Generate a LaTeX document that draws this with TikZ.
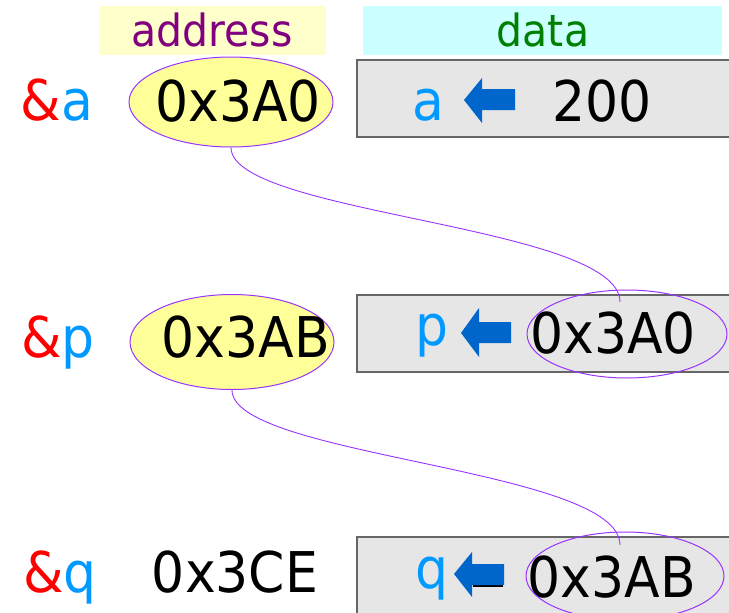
\documentclass[tikz,border=0pt]{standalone}
\usepackage{fontspec}
\setmainfont{DejaVu Sans}
\usetikzlibrary{shapes.geometric}
\definecolor{ellcol}{HTML}{9933FF}
\definecolor{ellfill}{HTML}{FFFF99}
\definecolor{boxline}{HTML}{666666}
\definecolor{boxfill}{HTML}{E6E6E6}
\definecolor{arrcol}{HTML}{0066CC}
\definecolor{hdrA}{HTML}{FFFFCC}
\definecolor{hdrB}{HTML}{CCFFFF}
\definecolor{hdrAtxt}{HTML}{800080}
\definecolor{hdrBtxt}{HTML}{008000}
\definecolor{ampred}{HTML}{FF0000}
\definecolor{varblue}{HTML}{0099FF}
\newcommand{\tallt}[1]{\scalebox{1}[1.08]{#1}}
\begin{document}
\begin{tikzpicture}[x=1pt,y=-1pt,
  big/.style={font=\fontsize{52}{52}\selectfont, inner sep=0pt, anchor=base},
  hdr/.style={font=\fontsize{41}{41}\selectfont, inner sep=0pt, anchor=base},
  addrell/.style={ellipse, draw=ellcol, fill=ellfill, line width=1pt, inner sep=0pt},
  ptrell/.style={ellipse, draw=ellcol, line width=1pt, inner sep=0pt},
  databox/.style={draw=boxline, fill=boxfill, line width=1.2pt},
  blockarrow/.style={fill=arrcol},
  link/.style={draw=ellcol, line width=0.9pt}]
\useasboundingbox (0,0) rectangle (729,613);

% headers
\fill[hdrA] (99,6) rectangle (326,55);
\fill[hdrB] (363,6) rectangle (722,55);
\node[hdr, text=hdrAtxt] (haddr) at (212,46) {\tallt{address}};
\node[hdr, text=hdrBtxt] (hdata) at (543,46) {\tallt{data}};

% data boxes
\path[databox] (357,60) rectangle (745,137);
\path[databox] (357,295) rectangle (745,372);
\path[databox] (357,537) rectangle (745,625);

% address ellipses
\node[addrell, minimum width=204pt, minimum height=90pt] (e1) at (231,102) {};
\node[addrell, minimum width=204pt, minimum height=95pt] (e2) at (232,342) {};

% left labels
\node[big] (la) at (57,120) {\tallt{\textcolor{ampred}{\&}\textcolor{varblue}{a}}};
\node[big] (lp) at (58,357) {\tallt{\textcolor{ampred}{\&}\textcolor{varblue}{p}}};
\node[big] (lq) at (60,592) {\tallt{\textcolor{ampred}{\&}\textcolor{varblue}{q}}};

% addresses
\node[big] (aa) at (238,121) {\tallt{0x3A0}};
\node[big] (ap) at (246,357) {\tallt{0x3AB}};
\node[big] (aq) at (235,592) {\tallt{0x3CE}};

% data row a
\node[big, text=varblue] (va) at (428,120) {\tallt{a}};
\fill[blockarrow] (464,100) -- (482,78) -- (482,89) -- (515,89) -- (515,110) -- (482,110) -- (482,123) -- cycle;
\node[big] (da) at (602,121) {\tallt{200}};

% data row p
\node[big, text=varblue] (vp) at (432,345) {\tallt{p}};
\fill[blockarrow] (461,333) -- (479,308) -- (479,322) -- (511,322) -- (511,343) -- (479,343) -- (479,357) -- cycle;
\node[big] (dp) at (613,353) {\tallt{0x3A0}};
\node[ptrell, minimum width=200pt, minimum height=88pt] (d2) at (627,334) {};

% data row q
\node[big, text=varblue] (vq) at (432,588) {\tallt{q}};
\draw[black, line width=2pt] (473,586) -- (503,586);
\fill[blockarrow] (454,574) -- (472,552) -- (472,564) -- (504,564) -- (504,585) -- (472,585) -- (472,597) -- cycle;
\node[big] (dq) at (612,597) {\tallt{0x3AB}};
\node[ptrell, minimum width=198pt, minimum height=88pt] (d3) at (625,576) {};

% links
\coordinate (t2) at (620,302);
\coordinate (t3) at (620,545);
\path[link] (e1.south) .. controls +(0,67) and +(0,-77) .. (t2);
\path[link] (e2.south) .. controls +(0,67) and +(0,-77) .. (t3);
\end{tikzpicture}
\end{document}
